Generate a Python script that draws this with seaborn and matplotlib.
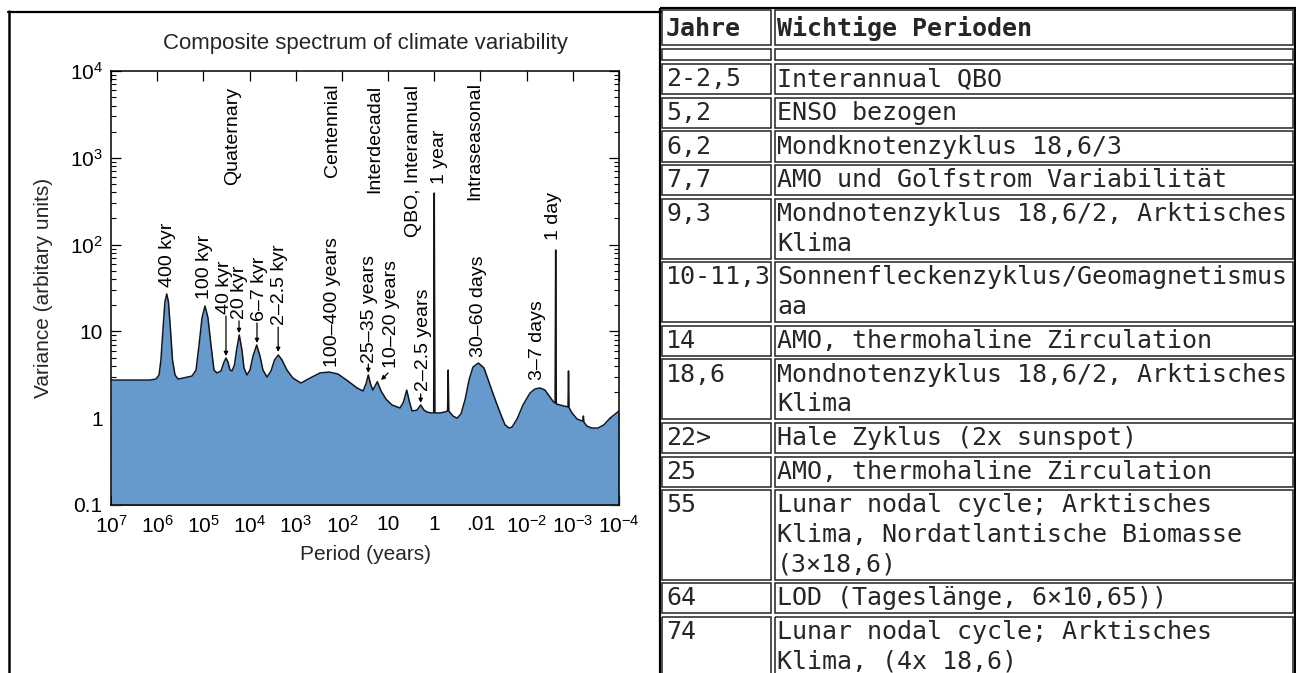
import matplotlib
matplotlib.use('Agg')
import matplotlib.pyplot as plt
from matplotlib.ticker import FixedLocator, NullLocator, LogLocator
import pandas as pd
import seaborn as sns

# composite spectrum: period (years) and variance (arbitrary units)
period = [1.0e7, 3.9e6, 1.43e6, 1.06e6,
          9.1e5, 8.3e5, 7.5e5, 6.8e5, 6.2e5, 5.7e5, 5.15e5, 4.66e5, 4.11e5, 3.54e5,
          2.76e5, 1.76e5,
          1.44e5, 1.24e5, 1.07e5, 9.22e4, 7.94e4, 6.84e4, 5.89e4,
          5.07e4,
          4.15e4, 3.57e4, 3.24e4, 2.93e4, 2.65e4,
          2.40e4,
          2.12e4, 1.91e4, 1.67e4, 1.46e4, 1.32e4,
          1.14e4,
          9.77e3, 8.41e3, 7.0e3, 5.94e3, 5.12e3,
          4.19e3,
          3.43e3, 2.88e3, 2.38e3, 1.98e3, 1.55e3, 1.15e3,
          769,
          491, 298, 190, 122, 73.8, 47.1, 34.9,
          30.1, 26.8, 24.0, 21.5,
          18.7, 17.1, 15.7, 14.2,
          11.1, 8.22, 5.52,
          4.63, 3.95, 3.44, 3.03,
          2.36, 1.97, 1.67, 1.44, 1.18,
          1.03, 1.0, 0.97,
          0.751, 0.586,
          0.515, 0.5, 0.485,
          0.393, 0.322, 0.264,
          0.216, 0.177, 0.145, 0.111, 0.0838, 0.0621, 0.046, 0.0359, 0.0294, 0.0241,
          0.0207, 0.0161,
          0.012, 0.00845, 0.00659, 0.00513, 0.0040, 0.00312, 0.00264,
          0.00242, 0.00235, 0.00228,
          0.00189, 0.00155,
          0.00127, 0.00124, 0.00121,
          0.00104, 0.000811, 0.000632,
          0.000605, 0.00059, 0.000576,
          0.000493, 0.000384, 0.000285, 0.000211, 0.000157, 0.0001]
variance = [2.75, 2.75, 2.75, 2.83,
            3.15, 4.68, 10.4, 21.8, 27.0, 21.8, 10.4, 4.68, 3.15, 2.83,
            2.90, 3.06,
            3.59, 6.97, 14.3, 19.6, 14.3, 6.97, 3.59,
            3.32,
            3.50, 4.44, 4.93, 4.44, 3.59,
            3.50,
            4.10, 6.1, 9.1, 6.1, 3.79,
            3.15,
            3.59, 5.2, 6.97, 5.2, 3.59,
            2.98,
            3.50, 4.68, 5.35, 4.68, 3.59, 2.90,
            2.54,
            2.90, 3.32, 3.40, 3.23, 2.68, 2.23, 2.06,
            2.48, 3.15, 2.48, 2.11,
            2.41, 2.63, 2.35, 2.06,
            1.66, 1.42, 1.31,
            1.54, 2.11, 1.54, 1.21,
            1.24, 1.42, 1.24, 1.18, 1.15,
            1.15, 393, 1.15,
            1.15, 1.18,
            1.21, 3.59, 1.21,
            1.06, 1.00, 1.12,
            1.62, 2.75, 3.89, 4.32, 3.79, 2.41, 1.54, 1.09, 0.84, 0.77,
            0.79, 0.98,
            1.42, 1.95, 2.17, 2.23, 2.11, 1.75, 1.55,
            1.50, 86.7, 1.46,
            1.42, 1.38,
            1.35, 3.50, 1.33,
            1.15, 0.98, 0.93,
            0.93, 1.06, 0.90,
            0.81, 0.77, 0.77, 0.84, 1.00, 1.21]

x_ticks = [1e7, 1e6, 1e5, 1e4, 1e3, 1e2, 1e1, 1e0, 1e-1, 1e-2, 1e-3, 1e-4]
x_labels = [r'$\mathregular{10^7}$', r'$\mathregular{10^6}$', r'$\mathregular{10^5}$',
            r'$\mathregular{10^4}$', r'$\mathregular{10^3}$', r'$\mathregular{10^2}$',
            '10', '1', '.01', r'$\mathregular{10^{-2}}$', r'$\mathregular{10^{-3}}$',
            r'$\mathregular{10^{-4}}$']
y_ticks = [0.1, 1, 10, 100, 1000, 10000]
y_labels = ['0.1', '1', '10', r'$\mathregular{10^2}$', r'$\mathregular{10^3}$',
            r'$\mathregular{10^4}$']

# table on the right
header = ['Jahre', 'Wichtige Perioden']
years = ['2-2,5', '5,2', '6,2', '7,7', '9,3', '10-11,3', '14', '18,6', '22>', '25',
         '55', '64', '74']
descriptions = ['Interannual QBO',
                'ENSO bezogen',
                'Mondknotenzyklus 18,6/3',
                'AMO und Golfstrom Variabilität',
                'Mondnotenzyklus 18,6/2, Arktisches\nKlima',
                'Sonnenfleckenzyklus/Geomagnetismus\naa',
                'AMO, thermohaline Zirculation',
                'Mondnotenzyklus 18,6/2, Arktisches\nKlima',
                'Hale Zyklus (2x sunspot)',
                'AMO, thermohaline Zirculation',
                'Lunar nodal cycle; Arktisches\nKlima, Nordatlantische Biomasse\n(3×18,6)',
                'LOD (Tageslänge, 6×10,65))',
                'Lunar nodal cycle; Arktisches\nKlima, (4x 18,6)']

df = pd.DataFrame({'period': period, 'variance': variance})

sns.set_style('ticks')
plt.rcParams['font.family'] = ['Liberation Sans', 'DejaVu Sans']
plt.rcParams['mathtext.fontset'] = 'custom'
plt.rcParams['mathtext.rm'] = 'Liberation Sans'
plt.rcParams['mathtext.it'] = 'Liberation Sans:italic'
plt.rcParams['mathtext.bf'] = 'Liberation Sans:bold'

fig = plt.figure(figsize=(12.96, 6.73), dpi=100)
fig.patch.set_facecolor('white')

# pixel-space overlay for frames, title and the table
bg = fig.add_axes([0, 0, 1, 1])
bg.set_xlim(0, 1296)
bg.set_ylim(673, 0)
bg.axis('off')

ax = fig.add_axes([111 / 1296, 1 - 505 / 673, 508 / 1296, 434 / 673])
ax.set_xscale('log')
ax.set_yscale('log')
ax.set_xlim(1e7, 1e-4)
ax.set_ylim(0.1, 1e4)

blue = '#6699cc'
ax.fill_between(df['period'], 0.05, df['variance'], color=blue, lw=0, zorder=1)
sns.lineplot(data=df, x='period', y='variance', sort=False, estimator=None,
             color='#151515', lw=1.1, ax=ax, zorder=2)

ax.xaxis.set_major_locator(FixedLocator(x_ticks))
ax.set_xticklabels(x_labels)
ax.xaxis.set_minor_locator(NullLocator())
ax.yaxis.set_major_locator(FixedLocator(y_ticks))
ax.set_yticklabels(y_labels)
ax.yaxis.set_minor_locator(LogLocator(base=10, subs=range(2, 10)))
ax.tick_params(which='both', direction='in', top=True, right=True, colors='black',
               labelsize=15)
ax.tick_params(which='major', length=7, width=0.9)
ax.tick_params(which='minor', length=3.5, width=0.8)
ax.tick_params(axis='x', pad=7)
ax.tick_params(axis='y', pad=6)
for s in ax.spines.values():
    s.set_linewidth(1.1)
    s.set_color('black')
ax.set_xlabel('Period (years)', fontsize=15, labelpad=6)
ax.set_ylabel('Variance (arbitary units)', fontsize=15, labelpad=12)

ann = dict(rotation=90, ha='center', va='bottom', fontsize=14, color='black')
for txt, px, vy in [('Quaternary', 2.28e4, 487), ('Centennial', 156, 601),
                    ('Interdecadal', 19.2, 393), ('QBO, Interannual', 2.75, 122),
                    ('1 year', 0.789, 499), ('Intraseasonal', 0.131, 327),
                    ('1 day', 0.00261, 113),
                    ('400 kyr', 6.12e5, 32.4), ('100 kyr', 9.22e4, 23.6),
                    ('40 kyr', 3.57e4, 15.8), ('20 kyr', 1.61e4, 13.9),
                    ('6–7 kyr', 5.94e3, 13.2), ('2–2.5 kyr', 2.25e3, 11.9),
                    ('100–400 years', 156, 3.89), ('25–35 years', 25.9, 4.32),
                    ('10–20 years', 8.43, 3.79), ('2–2.5 years', 1.75, 2.06),
                    ('30–60 days', 0.113, 5.07), ('3–7 days', 0.00596, 2.75)]:
    ax.text(px, vy, txt, **ann)

for start, tip in [((3.24e4, 15.0), (3.24e4, 5.2)), ((1.69e4, 13.2), (1.69e4, 9.57)),
                   ((6.9e3, 12.5), (6.9e3, 7.35)), ((2.4e3, 11.2), (2.4e3, 5.8)),
                   ((26.8, 4.2), (26.8, 3.32)), ((10.0, 3.32), (14.2, 2.75)),
                   ((1.97, 1.90), (1.97, 1.50))]:
    ax.annotate('', xy=tip, xytext=start,
                arrowprops=dict(arrowstyle='-|>', lw=0.9, color='black',
                                mutation_scale=6, shrinkA=0, shrinkB=0))

bg.text(365, 43, 'Composite spectrum of climate variability', ha='center',
        va='center', fontsize=16)

# frame of the left panel
bg.plot([9, 9], [11, 673], color='black', lw=1.8)
bg.plot([8, 661], [11.5, 11.5], color='black', lw=1.6)

# table
mono = ['DejaVu Sans Mono']
cols = [660, 772.5, 1295]
line_h, row_pad = 29.5, 4.3
bounds = [8, 47, 62]
for desc in descriptions:
    bounds.append(bounds[-1] + len(desc.split('\n')) * line_h + row_pad)

bg.add_patch(plt.Rectangle((cols[0], bounds[0]), cols[2] - cols[0],
                           bounds[-1] - bounds[0], fill=False, lw=1.6,
                           edgecolor='black'))
for r in range(len(bounds) - 1):
    for c in range(2):
        bg.add_patch(plt.Rectangle((cols[c] + 2, bounds[r] + 1.8),
                                   cols[c + 1] - cols[c] - 4,
                                   bounds[r + 1] - bounds[r] - 3.6,
                                   fill=False, lw=1.1, edgecolor='#222222'))

text_x = [666, 777]
hy = (bounds[0] + bounds[1]) / 2 + 1
for c, h in enumerate(header):
    bg.text(text_x[c], hy, h, family=mono, fontsize=18, fontweight='bold',
            ha='left', va='center')
for i, (yr, desc) in enumerate(zip(years, descriptions)):
    top = bounds[i + 2]
    bg.text(text_x[0], top + 2.2 + line_h / 2, yr, family=mono, fontsize=18,
            ha='left', va='center')
    for j, line in enumerate(desc.split('\n')):
        bg.text(text_x[1], top + 2.2 + line_h * (j + 0.5), line, family=mono,
                fontsize=18, ha='left', va='center')

fig.savefig('out.png', dpi=100)
